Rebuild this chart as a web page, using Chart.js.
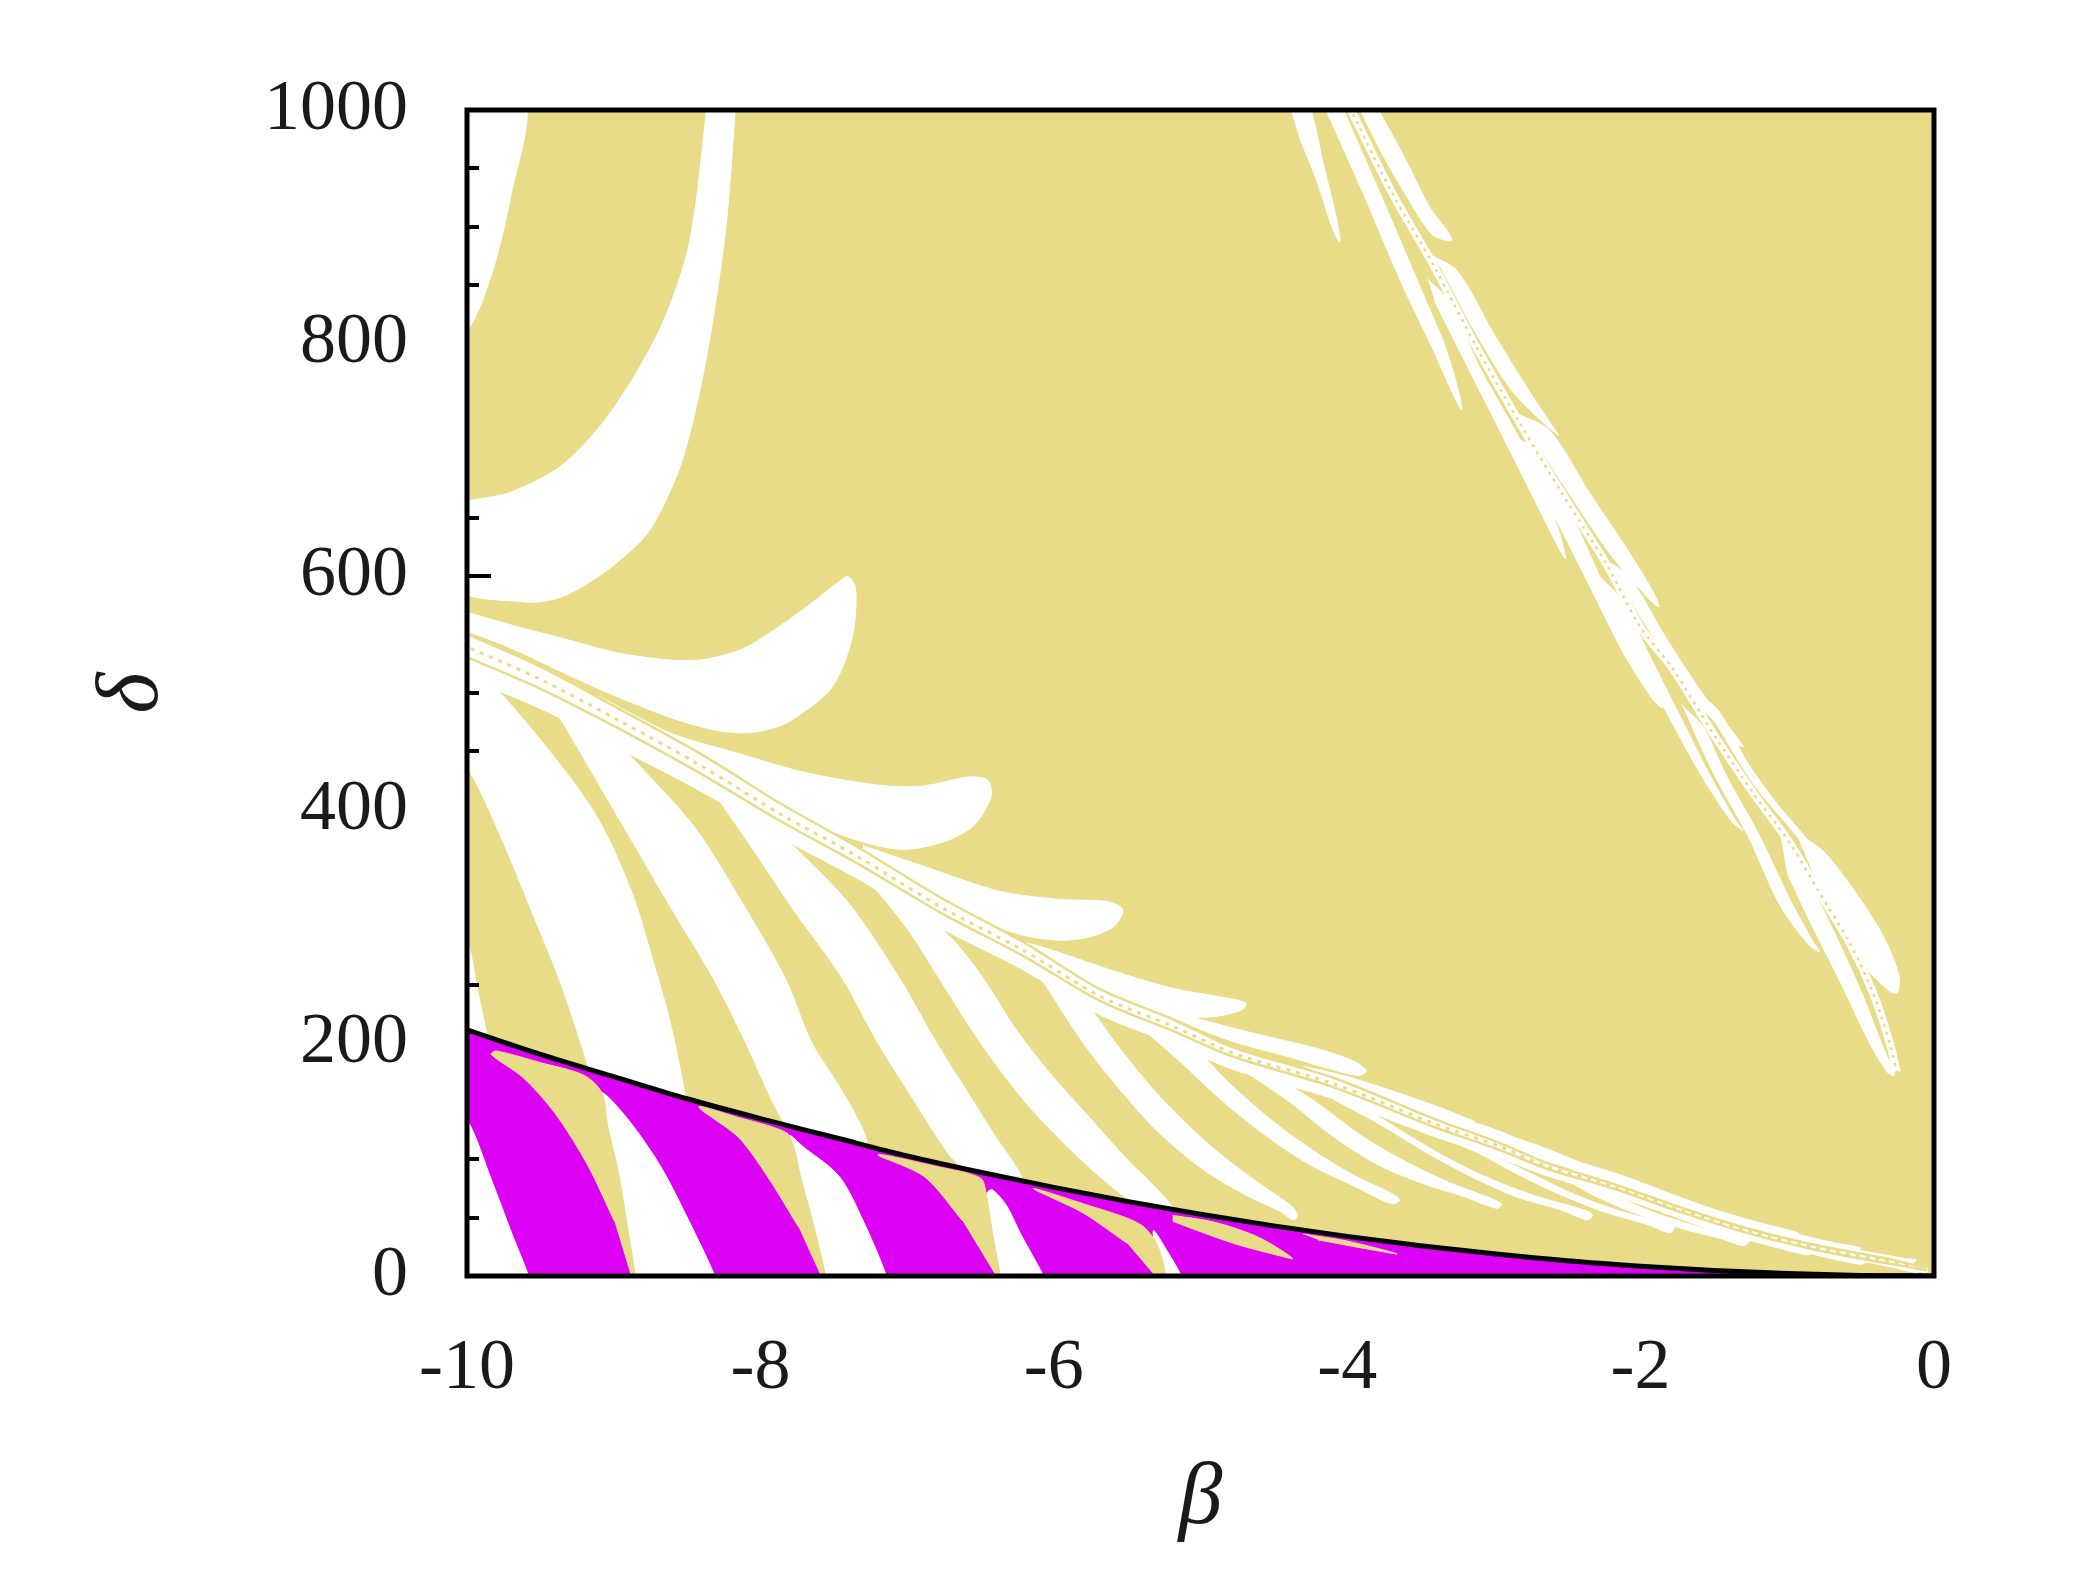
<!DOCTYPE html>
<html>
<head>
<meta charset="utf-8">
<script src="https://cdn.jsdelivr.net/npm/chart.js@4.4.1/dist/chart.umd.min.js"></script>
<style>
  html, body { margin: 0; background: #fff; }
</style>
</head>
<body>
<canvas id="regions" width="2100" height="1571"></canvas>
<script>
const KHAKI = "#e8dc88";
const MAGENTA = "#dc00f5";
const WHITE = "#ffffff";

// axes
const X_TICKS = [-10, -8, -6, -4, -2, 0];
const Y_TICKS = [0, 200, 400, 600, 800, 1000];
const Y_TICK_MARKS = [50, 100, 150, 200, 250, 300, 350, 400, 450, 500, 550, 600, 650, 700, 750, 800, 850, 900, 950];

// black boundary curve (beta, delta)
const BOUNDARY_BETA = [-10, -9.5, -9, -8.5, -8, -7.5, -7, -6.5, -6, -5.5, -5, -4.5, -4, -3.5, -3, -2.5, -2, -1.5, -1, -0.5, 0];
const BOUNDARY_DELTA = [211, 190, 171, 152, 135, 119, 103, 89, 76, 64, 53, 43, 34, 26, 19, 13, 8.4, 4.7, 2.1, 0.5, 0];

// main dotted filament (lower-left to lower-right)
const FIL_BETA = [-10.1, -9.506, -8.958, -8.41, -7.861, -7.313, -6.764, -6.216, -5.685, -5.185, -4.776, -4.095, -3.413, -2.959, -2.64, -2.186, -1.732, -1.277, -0.823, -0.368, -0.05];
const FIL_TOP = [556, 523, 486, 448, 405, 366, 324, 287, 246, 220, 196, 170, 135, 114, 97, 79, 59, 41, 27, 16, 7];
const FIL_MID = [545, 512, 476, 438, 396, 358, 316, 280, 240, 214, 191, 165, 131, 111, 94, 77, 57, 39, 25, 14, 6];
const FIL_SEP = [536, 504, 469, 431, 390, 352, 311, 275, 236, 210, 188, 162, 128, 108, 92, 75, 55, 37, 23, 12, 5];
const FIL_LOW = [518, 487, 452, 416, 376, 339, 298, 263, 224, 199, 177, 152, 120, 101, 86, 69, 50, 33, 20, 10, 3];

// top-right dotted filament
const TR_BETA = [-4.03, -3.707, -3.412, -3.116, -2.821, -2.525, -2.23, -2.004, -1.776, -1.504, -1.231, -0.981, -0.777, -0.572, -0.413, -0.3, -0.254];
const TR_DELTA = [1015, 932, 867, 796, 731, 669, 610, 557, 520, 465, 414, 371, 328, 285, 242, 199, 175];

// white regions above the boundary, [beta, delta] outlines
const CORNER = [[-10.1, 1010], [-9.61, 1010], [-9.707, 923], [-9.83, 860], [-9.98, 814], [-10.1, 805]];
const TOP_BAND = [[-8.357, 1010], [-8.48, 888], [-8.637, 826], [-8.821, 780], [-9.073, 732], [-9.366, 694], [-9.707, 672], [-10.1, 657],
  [-10.1, 591], [-9.591, 578], [-9.366, 582], [-9.141, 597], [-8.957, 614], [-8.753, 640], [-8.548, 694], [-8.412, 760], [-8.31, 831], [-8.228, 908], [-8.166, 1010]];

const CLAW_1 = [[-10.1, 573], [-9.689, 558], [-9.324, 546], [-8.958, 534], [-8.592, 528], [-8.373, 529], [-8.117, 538], [-7.861, 558], [-7.642, 578], [-7.459, 596], [-7.404, 600],
  [-7.356, 592], [-7.349, 574], [-7.37, 550], [-7.44, 522], [-7.53, 502], [-7.68, 486], [-7.86, 472], [-8.08, 466], [-8.3, 468], [-8.59, 478], [-8.96, 496], [-9.32, 516], [-9.69, 538], [-10.1, 558]];
const CLAW_2 = [[-9.1, 497], [-8.6, 465], [-8.2, 450], [-7.7, 432], [-7.2, 421], [-6.9, 420], [-6.58, 428], [-6.45, 425], [-6.43, 410], [-6.55, 386], [-6.76, 372], [-7.06, 366], [-7.5, 381], [-8.0, 416], [-8.5, 452], [-9.0, 490]];
const CLAW_3 = [[-7.3, 369], [-6.9, 352], [-6.37, 330], [-5.96, 323], [-5.63, 321], [-5.53, 314], [-5.59, 300], [-5.75, 291], [-5.96, 288], [-6.2, 292], [-6.5, 305], [-6.9, 333], [-7.3, 364]];
const CLAW_4 = [[-6.3, 290], [-6.0, 279], [-5.6, 262], [-5.2, 247], [-4.85, 239], [-4.69, 234], [-4.72, 228], [-4.95, 222], [-5.3, 225], [-5.7, 247], [-6.0, 268], [-6.3, 288]];
const CLAW_5 = [[-5.3, 232], [-5.0, 220], [-4.6, 207], [-4.2, 195], [-3.95, 184], [-3.87, 176], [-3.92, 172], [-4.1, 177], [-4.4, 188], [-4.8, 202], [-5.2, 222]];
const CLAW_6 = [[-4.3, 180], [-4.0, 171], [-3.7, 159], [-3.4, 146], [-3.2, 136], [-3.13, 132], [-3.2, 128], [-3.45, 136], [-3.75, 150], [-4.05, 165]];
const CLAW_7 = [[-3.8, 157], [-3.4, 141], [-3.0, 126], [-2.7, 110], [-2.47, 98], [-2.55, 95], [-2.8, 106], [-3.1, 121], [-3.45, 136]];
const CLAW_8 = [[-3.1, 128], [-2.7, 112], [-2.35, 94], [-2.05, 79], [-1.89, 71], [-1.95, 68], [-2.2, 79], [-2.5, 93], [-2.8, 108]];
const CLAW_9 = [[-2.5, 101], [-2.1, 85], [-1.7, 66], [-1.45, 55], [-1.37, 51], [-1.42, 48], [-1.6, 54], [-1.9, 66], [-2.2, 80]];
const CLAW_10 = [[-1.9, 74], [-1.55, 59], [-1.2, 46], [-0.95, 38], [-0.92, 36], [-0.97, 34], [-1.2, 40], [-1.5, 50], [-1.75, 61]];
const CLAW_11 = [[-1.35, 49], [-1.0, 38], [-0.7, 29], [-0.5, 24], [-0.55, 21], [-0.8, 26], [-1.1, 34]];
const CLAW_12 = [[-0.85, 32], [-0.5, 22], [-0.2, 15], [-0.12, 14], [-0.15, 11], [-0.4, 17], [-0.7, 25]];

const BAND_L = [[-10.1, 287], [-10, 286], [-9.93, 246], [-9.86, 205], [-9.8, 170], [-9.75, 130], [-10.1, 130]];
const BAND_1 = [[-10.1, 437], [-10, 436], [-9.76, 374], [-9.55, 310], [-9.37, 254], [-9.2, 190], [-9.05, 120], [-8.95, 60], [-8.9, 20],
  [-8.35, 20], [-8.42, 80], [-8.52, 160], [-8.62, 220], [-8.72, 265], [-8.88, 330], [-9.12, 395], [-9.5, 460], [-10, 530], [-10.1, 531]];
const BAND_2 = [[-9.4, 486], [-9.0, 400], [-8.62, 318], [-8.32, 255], [-8.1, 200], [-7.92, 150], [-7.79, 118], [-7.7, 70], [-7.65, 30],
  [-7.2, 30], [-7.24, 70], [-7.28, 118], [-7.45, 160], [-7.65, 200], [-7.83, 255], [-8.1, 315], [-8.45, 385], [-8.9, 448]];
const BAND_3 = [[-8.35, 420], [-8.1, 375], [-7.78, 315], [-7.44, 255], [-7.2, 200], [-6.95, 150], [-6.72, 105], [-6.58, 85], [-6.5, 50],
  [-6.15, 50], [-6.22, 85], [-6.4, 120], [-6.6, 160], [-6.8, 200], [-7.05, 255], [-7.4, 320], [-7.8, 372]];
const BAND_4 = [[-7.3, 345], [-7.0, 298], [-6.78, 255], [-6.5, 200], [-6.2, 150], [-5.9, 110], [-5.62, 78], [-5.45, 62], [-5.38, 56], [-5.33, 35],
  [-5.17, 35], [-5.18, 56], [-5.3, 75], [-5.5, 100], [-5.75, 135], [-6.0, 170], [-6.25, 210], [-6.48, 255], [-6.7, 290], [-6.95, 316]];

const FINGER_1 = [[-6.1, 258], [-5.8, 200], [-5.55, 160], [-5.3, 125], [-5.0, 93], [-4.7, 70], [-4.45, 55], [-4.37, 48], [-4.34, 52], [-4.38, 60], [-4.55, 75], [-4.8, 98], [-5.05, 125], [-5.3, 157], [-5.55, 195], [-5.75, 230]];
const FINGER_2 = [[-5.45, 218], [-5.15, 185], [-4.85, 150], [-4.55, 120], [-4.25, 95], [-3.95, 77], [-3.7, 62], [-3.64, 65], [-3.7, 71], [-3.95, 86], [-4.2, 105], [-4.5, 132], [-4.8, 165], [-5.05, 198]];
const FINGER_3 = [[-4.75, 180], [-4.4, 150], [-4.1, 120], [-3.8, 96], [-3.5, 80], [-3.2, 68], [-2.98, 58], [-2.95, 62], [-3.05, 68], [-3.3, 80], [-3.6, 98], [-3.9, 120], [-4.2, 148], [-4.45, 168]];
const FINGER_4 = [[-4.1, 152], [-3.75, 128], [-3.45, 105], [-3.15, 85], [-2.85, 68], [-2.55, 57], [-2.36, 48], [-2.33, 53], [-2.42, 58], [-2.7, 68], [-3.0, 82], [-3.3, 100], [-3.6, 122], [-3.85, 142]];
const FINGER_5 = [[-3.5, 124], [-3.15, 108], [-2.85, 88], [-2.55, 70], [-2.25, 55], [-1.95, 44], [-1.8, 37], [-1.77, 42], [-1.88, 47], [-2.15, 56], [-2.45, 70], [-2.75, 88], [-3.05, 106], [-3.3, 119]];
const FINGER_6 = [[-2.95, 101], [-2.6, 88], [-2.3, 68], [-2.0, 52], [-1.7, 40], [-1.45, 32], [-1.3, 26], [-1.26, 30], [-1.36, 34], [-1.6, 42], [-1.9, 54], [-2.2, 70], [-2.5, 85], [-2.75, 95]];
const FINGER_7 = [[-2.4, 77], [-2.05, 66], [-1.75, 50], [-1.45, 37], [-1.15, 27], [-0.86, 18], [-0.83, 21], [-0.95, 25], [-1.25, 33], [-1.55, 44], [-1.85, 58], [-2.2, 72]];
const FINGER_8 = [[-1.85, 54], [-1.5, 45], [-1.2, 32], [-0.9, 21], [-0.5, 10], [-0.46, 13], [-0.6, 16], [-0.95, 26], [-1.3, 38], [-1.65, 50]];
const FINGER_9 = [[-1.3, 35], [-0.9, 26], [-0.6, 16], [-0.3, 8], [-0.12, 3], [-0.08, 5], [-0.3, 11], [-0.6, 19], [-0.95, 29], [-1.15, 33]];

const LEAF_1 = [[-4.41, 1010], [-4.28, 1010], [-4.16, 952], [-4.07, 905], [-4.05, 887], [-4.09, 895], [-4.21, 940], [-4.33, 978]];
const LEAF_2 = [[-4.18, 1010], [-3.875, 924], [-3.635, 853], [-3.42, 796], [-3.27, 754], [-3.22, 743], [-3.235, 756], [-3.335, 798], [-3.52, 853], [-3.76, 924], [-4.06, 1010]];
const LEAF_3 = [[-3.95, 1010], [-3.76, 962], [-3.59, 925], [-3.42, 893], [-3.29, 888], [-3.31, 895], [-3.44, 917], [-3.6, 957], [-3.83, 1010]];
const LEAF_4 = [[-3.42, 875], [-3.25, 862], [-3.0, 808], [-2.75, 757], [-2.58, 725], [-2.556, 721], [-2.62, 727], [-2.87, 758], [-3.12, 808], [-3.35, 862]];
const LEAF_5 = [[-3.45, 855], [-3.3, 835], [-3.1, 780], [-2.9, 735], [-2.7, 688], [-2.56, 640], [-2.51, 615], [-2.56, 625], [-2.78, 680], [-3.0, 735], [-3.2, 785], [-3.4, 835]];
const LEAF_6 = [[-2.85, 740], [-2.62, 725], [-2.35, 672], [-2.1, 625], [-1.92, 588], [-1.874, 574], [-1.93, 579], [-2.2, 618], [-2.45, 664], [-2.7, 712]];
const LEAF_7 = [[-2.86, 720], [-2.68, 705], [-2.46, 650], [-2.26, 595], [-2.06, 540], [-1.9, 500], [-1.85, 487], [-1.92, 495], [-2.12, 535], [-2.36, 595], [-2.56, 645], [-2.78, 700]];
const LEAF_8 = [[-2.25, 615], [-2.08, 600], [-1.83, 548], [-1.58, 500], [-1.38, 468], [-1.30, 454], [-1.35, 457], [-1.6, 490], [-1.82, 530], [-2.05, 575]];
const LEAF_9 = [[-2.28, 600], [-2.13, 580], [-1.93, 530], [-1.73, 480], [-1.53, 430], [-1.36, 392], [-1.3, 382], [-1.38, 390], [-1.58, 428], [-1.8, 478], [-2.01, 528], [-2.2, 578]];
const LEAF_10 = [[-1.62, 500], [-1.47, 485], [-1.27, 440], [-1.07, 405], [-0.87, 375], [-0.78, 354], [-0.82, 360], [-1.02, 390], [-1.22, 420], [-1.42, 460]];
const LEAF_11 = [[-1.72, 490], [-1.57, 470], [-1.42, 430], [-1.2, 380], [-0.97, 320], [-0.83, 288], [-0.78, 278], [-0.86, 285], [-1.05, 318], [-1.27, 378], [-1.49, 428], [-1.64, 468]];
const LEAF_12 = [[-0.94, 380], [-0.76, 365], [-0.54, 330], [-0.34, 290], [-0.24, 258], [-0.25, 243], [-0.3, 244], [-0.49, 268], [-0.66, 305], [-0.84, 350]];
const LEAF_13 = [[-1.05, 380], [-0.9, 350], [-0.7, 300], [-0.5, 245], [-0.36, 200], [-0.27, 172], [-0.32, 175], [-0.46, 205], [-0.63, 250], [-0.83, 300], [-1.0, 345]];

// below the boundary: white tongues and khaki slivers over the magenta
const TONGUE_0 = [[-10.1, -5], [-9.58, -5], [-9.58, 0], [-9.69, 35], [-9.835, 83], [-10, 134], [-10.1, 136]];
const TONGUE_1 = [[-8.85, -5], [-8.31, -5], [-8.31, 0], [-8.49, 48], [-8.68, 94], [-8.9, 134], [-9.08, 157], [-9.04, 128], [-8.97, 90], [-8.91, 45], [-8.85, 0]];
const TONGUE_2 = [[-7.55, -5], [-7.14, -5], [-7.14, 0], [-7.28, 42], [-7.46, 85], [-7.71, 111], [-7.8, 120], [-7.72, 82], [-7.63, 40], [-7.55, 0]];
const TONGUE_3 = [[-6.36, -5], [-6.07, -5], [-6.07, 0], [-6.23, 37], [-6.32, 60], [-6.42, 74], [-6.46, 70], [-6.42, 38], [-6.36, 0]];
const TONGUE_4 = [[-5.23, -5], [-5.13, -5], [-5.13, 0], [-5.23, 22], [-5.32, 39], [-5.3, 20], [-5.23, 0]];

const SLIVER_1 = [[-8.87, -5], [-8.85, -5], [-8.91, 45], [-8.97, 90], [-9.04, 128], [-9.08, 157], [-9.2, 172], [-9.5, 183], [-9.8, 193], [-9.835, 190], [-9.616, 170], [-9.397, 139], [-9.177, 95], [-8.995, 47]];
const SLIVER_2 = [[-7.57, -5], [-7.55, -5], [-7.63, 40], [-7.72, 82], [-7.8, 120], [-7.9, 127], [-8.15, 136], [-8.42, 145], [-8.15, 119], [-7.95, 85], [-7.74, 42]];
const SLIVER_3 = [[-6.37, -5], [-6.36, -5], [-6.42, 38], [-6.46, 70], [-6.5, 84], [-6.8, 94], [-7.2, 104], [-6.88, 85], [-6.62, 47]];
const SLIVER_4 = [[-5.276, -5], [-5.23, -5], [-5.3, 28], [-5.42, 45], [-5.8, 62], [-6.14, 75], [-5.8, 54], [-5.5, 28]];
const SLIVER_5 = [[-5.19, 52], [-4.9, 46], [-4.6, 33], [-4.37, 15], [-4.45, 17], [-4.75, 27], [-5.0, 38], [-5.19, 47]];
const SLIVER_6 = [[-4.3, 36], [-4.0, 30], [-3.66, 19], [-3.9, 24], [-4.2, 31]];

const zip = (xs, ys) => xs.map((x, i) => [x, ys[i]]);
const toPoints = (pairs) => pairs.map(([x, y]) => ({ x, y }));

const layers = [];

function addRegion(shape, color) {
    layers.push({
        data: toPoints(shape),
        fill: "shape",
        backgroundColor: color,
        borderColor: color,
        borderWidth: 1,
        pointRadius: 0,
        tension: 0.3,
    });
}

function addLine(pairs, color, width, dash) {
    layers.push({
        data: toPoints(pairs),
        fill: false,
        borderColor: color,
        borderWidth: width,
        borderDash: dash || [],
        pointRadius: 0,
        tension: 0.3,
    });
}

// white structure on the khaki background
[CORNER, TOP_BAND, CLAW_1, CLAW_2, CLAW_3, CLAW_4, CLAW_5, CLAW_6, CLAW_7, CLAW_8, CLAW_9, CLAW_10, CLAW_11, CLAW_12,
 BAND_L, BAND_1, BAND_2, BAND_3, BAND_4,
 FINGER_1, FINGER_2, FINGER_3, FINGER_4, FINGER_5, FINGER_6, FINGER_7, FINGER_8, FINGER_9,
 LEAF_1, LEAF_2, LEAF_3, LEAF_4, LEAF_5, LEAF_6, LEAF_7, LEAF_8, LEAF_9, LEAF_10, LEAF_11, LEAF_12, LEAF_13]
    .forEach((s) => addRegion(s, WHITE));

addRegion(zip(FIL_BETA, FIL_TOP).concat(zip(FIL_BETA, FIL_LOW).reverse()), WHITE);
addLine(zip(TR_BETA, TR_DELTA), WHITE, 8);

// khaki threads inside the filaments
addLine(zip(FIL_BETA, FIL_TOP), KHAKI, 2.5);
addLine(zip(FIL_BETA, FIL_SEP), KHAKI, 2.5);
addLine(zip(FIL_BETA, FIL_MID), KHAKI, 3, [4, 6]);
addLine(zip(TR_BETA, TR_DELTA), KHAKI, 2.5, [3, 5]);

// magenta under the boundary
layers.push({
    data: toPoints(zip(BOUNDARY_BETA, BOUNDARY_DELTA)),
    fill: "origin",
    backgroundColor: MAGENTA,
    borderColor: MAGENTA,
    borderWidth: 1,
    pointRadius: 0,
    cubicInterpolationMode: "monotone",
});

[TONGUE_0, TONGUE_1, TONGUE_2, TONGUE_3, TONGUE_4].forEach((s) => addRegion(s, WHITE));
[SLIVER_1, SLIVER_2, SLIVER_3, SLIVER_4, SLIVER_5, SLIVER_6].forEach((s) => addRegion(s, KHAKI));

// boundary line
layers.push({
    data: toPoints(zip(BOUNDARY_BETA, BOUNDARY_DELTA)),
    fill: false,
    borderColor: "#000",
    borderWidth: 5,
    pointRadius: 0,
    cubicInterpolationMode: "monotone",
});

// first pushed = drawn first (bottom)
layers.forEach((d, i) => { d.order = layers.length - i; });

const frame = {
    id: "frame",
    beforeDatasetsDraw(chart) {
        const { ctx, chartArea: a } = chart;
        ctx.save();
        ctx.fillStyle = KHAKI;
        ctx.fillRect(a.left, a.top, a.right - a.left, a.bottom - a.top);
        ctx.restore();
    },
    afterDatasetsDraw(chart) {
        const { ctx, chartArea: a, scales: { y } } = chart;
        ctx.save();
        ctx.strokeStyle = "#000";
        ctx.lineWidth = 4;
        // inward ticks only show where the plot is left white
        Y_TICK_MARKS.forEach((v) => {
            const py = Math.round(y.getPixelForValue(v));
            const px = ctx.getImageData(Math.round(a.left) + 8, py, 1, 1).data;
            if (px[0] < 235 || px[1] < 235 || px[2] < 235) return;
            const len = Y_TICKS.includes(v) ? 24 : 12;
            ctx.beginPath();
            ctx.moveTo(a.left, py);
            ctx.lineTo(a.left + len, py);
            ctx.stroke();
        });
        ctx.lineWidth = 5;
        ctx.strokeRect(a.left, a.top, a.right - a.left, a.bottom - a.top);
        ctx.restore();
    },
};

const tickFont = { family: "'Liberation Serif', 'DejaVu Serif', serif", size: 72 };
const titleFont = { family: "'Liberation Serif', 'DejaVu Serif', serif", size: 88, style: "italic" };

new Chart(document.getElementById("regions").getContext("2d"), {
    type: "line",
    data: { datasets: layers },
    options: {
        responsive: false,
        animation: false,
        events: [],
        layout: { padding: { top: 110, right: 166, left: 0, bottom: 0 } },
        plugins: { legend: { display: false }, tooltip: { enabled: false } },
        scales: {
            x: {
                type: "linear",
                min: -10,
                max: 0,
                grid: { display: false, drawTicks: false },
                border: { display: false },
                ticks: { font: tickFont, color: "#1a1a1a", padding: 50, maxRotation: 0, autoSkip: false, callback: (v) => String(v) },
                afterBuildTicks: (s) => { s.ticks = X_TICKS.map((value) => ({ value })); },
                afterFit: (s) => { s.height = 295; },
                title: { display: true, text: "β", font: titleFont, color: "#1a1a1a", padding: { top: 0, bottom: 18 } },
            },
            y: {
                type: "linear",
                min: 0,
                max: 1000,
                grid: { display: false, drawTicks: false },
                border: { display: false },
                ticks: { font: tickFont, color: "#1a1a1a", padding: 59, autoSkip: false, callback: (v) => String(v) },
                afterBuildTicks: (s) => { s.ticks = Y_TICKS.map((value) => ({ value })); },
                afterFit: (s) => { s.width = 467; },
                title: { display: true, text: "δ", font: titleFont, color: "#1a1a1a", padding: { top: 81, bottom: 0 } },
            },
        },
    },
    plugins: [frame],
});
</script>
</body>
</html>
